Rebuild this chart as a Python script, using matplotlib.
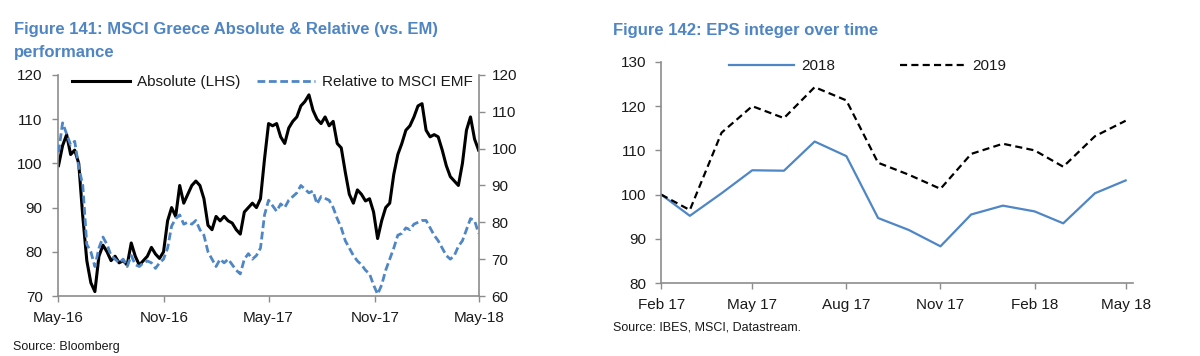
import pandas as pd
import matplotlib
matplotlib.use("Agg")
import matplotlib.pyplot as plt
import matplotlib.dates as mdates

plt.rcParams['font.family'] = ['Liberation Sans', 'DejaVu Sans']

# Figure 141: weekly MSCI Greece, absolute (LHS) and relative to MSCI EMF (RHS)
weeks = pd.date_range('2016-05-02', periods=105, freq='7D')
abs_lhs = [99.5, 104, 106.5, 102, 103, 100, 88, 78, 73, 71,
           79, 81.5, 80, 78, 79, 77.5, 78, 77, 82, 79,
           77, 78, 79, 81, 79.5, 78.5, 80, 87, 90, 88,
           95, 91, 93, 95, 96, 95, 92, 86, 85, 88,
           87, 88, 87, 86.5, 85, 84, 89, 90, 91, 90,
           92, 101, 109, 108.5, 109, 106, 104.5, 108, 109.5, 110.5,
           113, 114, 115.5, 112, 110, 109, 110.5, 108.5, 109.5, 104.5,
           103.5, 98, 93, 91, 94, 93, 91.5, 92, 89, 83,
           87, 90, 91, 97.5, 102, 104.5, 107.5, 108.5, 110.5, 113,
           113.5, 107.5, 106, 106.5, 106, 103, 99.5, 97, 96, 95,
           100, 107.5, 110.5, 105.5, 103]
rel_rhs = [99, 107, 104, 101, 102, 95, 90, 74, 72, 68,
           73, 76, 74, 71, 70, 69, 70, 68, 71, 68.5,
           68, 69, 69.5, 69, 67.5, 69, 70, 73, 79, 81,
           82, 79.5, 80, 79.5, 80.5, 78, 76.5, 72, 70, 68,
           70, 69, 70, 68.5, 67, 66, 70, 71.5, 70, 71,
           73, 82, 86, 84.5, 83, 85, 84, 86, 87, 88,
           90, 89, 88, 88.5, 85, 87, 86.5, 86, 84, 81,
           78.5, 75, 73, 71, 69.5, 68.5, 67, 66, 63, 60.5,
           63, 67, 70, 73, 76.5, 77, 78.5, 78, 79.5, 80,
           80.5, 80.5, 78.5, 76.5, 75, 73, 71, 70, 71, 73.5,
           75, 78, 81, 80.5, 77]

# Figure 142: monthly EPS index
months = pd.date_range('2017-02-01', periods=16, freq='MS')
eps_2018 = [100, 95.2, 100.3, 105.5, 105.4, 112, 108.7, 94.7, 92, 88.3,
            95.5, 97.5, 96.2, 93.5, 100.3, 103.2]
eps_2019 = [100, 96.5, 114, 120, 117.3, 124.3, 121.3, 107.2, 104.5, 101.3,
            109.2, 111.5, 110, 106.3, 113.2, 116.7]

title_col = '#4F85C2'
blue = '#4F86C6'
spine_col = '#8C8C8C'
text_col = '#1A1A1A'


def style_axis(ax, sides):
    for s in ['top', 'right', 'left', 'bottom']:
        ax.spines[s].set_visible(s in sides)
        ax.spines[s].set_color(spine_col)
        ax.spines[s].set_linewidth(1.2)
    ax.tick_params(direction='out', length=4, width=1.0, color=spine_col,
                   labelsize=11, labelcolor=text_col, pad=7)


fig = plt.figure(figsize=(12, 3.56), dpi=100)

# ---- left chart ----
ax1 = fig.add_axes([0.0483, 0.1685, 0.351, 0.621])
ax1r = ax1.twinx()
l_abs, = ax1.plot(weeks, abs_lhs, color='black', lw=2.2, solid_joinstyle='round')
l_rel, = ax1r.plot(weeks, rel_rhs, color=blue, lw=2.0, dashes=(2.8, 1.3))
ax1.set_ylim(70, 120)
ax1r.set_ylim(60, 120)
ax1.set_yticks(range(70, 121, 10))
ax1r.set_yticks(range(60, 121, 10))
ax1.set_xlim(pd.Timestamp('2016-05-01'), pd.Timestamp('2018-05-01'))
ax1.xaxis.set_major_locator(mdates.MonthLocator(bymonth=[5, 11]))
ax1.xaxis.set_major_formatter(mdates.DateFormatter('%b-%y'))
style_axis(ax1, ['left', 'bottom'])
style_axis(ax1r, ['right'])
ax1r.tick_params(pad=5)

fig.legend([l_abs, l_rel], ['Absolute (LHS)', 'Relative to MSCI EMF'],
           loc='center left', bbox_to_anchor=(72 / 1200, 1 - 82 / 356),
           bbox_transform=fig.transFigure, ncol=2, frameon=False,
           fontsize=11, borderpad=0, borderaxespad=0, handlelength=3.8,
           handletextpad=0.45, columnspacing=1.1, labelcolor=text_col)

fig.text(14 / 1200, 1 - 34 / 356, 'Figure 141: MSCI Greece Absolute & Relative (vs. EM)',
         color=title_col, fontsize=12, fontweight='bold', va='baseline')
fig.text(14 / 1200, 1 - 57 / 356, 'performance',
         color=title_col, fontsize=12, fontweight='bold', va='baseline')
fig.text(13 / 1200, 1 - 350 / 356, 'Source: Bloomberg',
         color=text_col, fontsize=9, va='baseline')

# ---- right chart ----
ax2 = fig.add_axes([0.551, 0.205, 0.393, 0.621])
l18, = ax2.plot(months, eps_2018, color=blue, lw=1.6)
l19, = ax2.plot(months, eps_2019, color='black', lw=1.6, dashes=(3.2, 1.9))
ax2.set_ylim(80, 130)
ax2.set_yticks(range(80, 131, 10))
ax2.set_xlim(pd.Timestamp('2017-02-01'), pd.Timestamp('2018-05-08'))
ax2.xaxis.set_major_locator(mdates.MonthLocator(bymonth=[2, 5, 8, 11]))
ax2.xaxis.set_major_formatter(mdates.DateFormatter('%b %y'))
style_axis(ax2, ['left', 'bottom'])

ax2.legend([l18, l19], ['2018', '2019'], loc='center left',
           bbox_to_anchor=(729 / 1200, 1 - 66 / 356), bbox_transform=fig.transFigure,
           ncol=2, frameon=False, fontsize=11, borderpad=0, borderaxespad=0,
           handlelength=4.25, handletextpad=0.5, columnspacing=4.2,
           labelcolor=text_col)

fig.text(613 / 1200, 1 - 35 / 356, 'Figure 142: EPS integer over time',
         color=title_col, fontsize=12, fontweight='bold', va='baseline')
fig.text(613 / 1200, 1 - 331 / 356, 'Source: IBES, MSCI, Datastream.',
         color=text_col, fontsize=9, va='baseline')

fig.savefig('out.png', dpi=100, facecolor='white')
